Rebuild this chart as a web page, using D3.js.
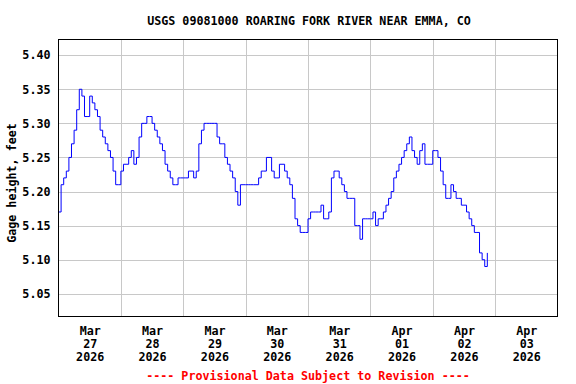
<!DOCTYPE html>
<html>
<head>
<meta charset="utf-8">
<style>
    body {
        margin: 0;
        background: #fff;
    }
    svg {
        display: block;
    }
    text {
        font-family: "DejaVu Sans Mono", monospace;
        font-weight: bold;
        font-size: 11.7px;
        fill: #000;
    }
    .grid line {
        stroke: #c8c8c8;
        stroke-width: 1;
    }
    .axis path, .axis line {
        display: none;
    }
    .frame {
        fill: none;
        stroke: #000;
        stroke-width: 1;
    }
    .stage {
        fill: none;
        stroke: #0000ff;
        stroke-width: 1;
    }
    .note {
        fill: #ff0000;
    }
</style>
</head>
<body>
<script src="https://cdn.jsdelivr.net/npm/d3@7/dist/d3.min.js"></script>
<script>

    var chartTitle = "USGS 09081000 ROARING FORK RIVER NEAR EMMA, CO";
    var yTitle = "Gage height, feet";
    var noteText = "---- Provisional Data Subject to Revision ----";

    // one label per day, three rows
    var monthLabels = ["Mar", "Mar", "Mar", "Mar", "Mar", "Apr", "Apr", "Apr"];
    var dayLabels = ["27", "28", "29", "30", "31", "01", "02", "03"];
    var yearLabels = ["2026", "2026", "2026", "2026", "2026", "2026", "2026", "2026"];

    var yTicks = [5.05, 5.10, 5.15, 5.20, 5.25, 5.30, 5.35, 5.40];

    // hourly gage height from 2026-03-27 00:00
    var gageHeight = [
        5.17, 5.21, 5.22, 5.23, 5.25, 5.27, 5.29, 5.32, 5.35, 5.34,
        5.31, 5.31, 5.34, 5.33, 5.32, 5.31, 5.29, 5.28, 5.27, 5.26,
        5.25, 5.23, 5.21, 5.21, 5.23, 5.24, 5.24, 5.25, 5.26, 5.24,
        5.25, 5.28, 5.30, 5.30, 5.31, 5.31, 5.30, 5.29, 5.28, 5.27,
        5.26, 5.24, 5.23, 5.22, 5.21, 5.21, 5.22, 5.22, 5.22, 5.22,
        5.23, 5.23, 5.22, 5.23, 5.27, 5.29, 5.30, 5.30, 5.30, 5.30,
        5.30, 5.28, 5.27, 5.27, 5.25, 5.24, 5.23, 5.22, 5.20, 5.18,
        5.21, 5.21, 5.21, 5.21, 5.21, 5.21, 5.21, 5.22, 5.23, 5.23,
        5.25, 5.25, 5.23, 5.22, 5.22, 5.24, 5.24, 5.23, 5.22, 5.21,
        5.19, 5.16, 5.15, 5.14, 5.14, 5.14, 5.16, 5.17, 5.17, 5.17,
        5.17, 5.18, 5.16, 5.16, 5.17, 5.22, 5.23, 5.23, 5.22, 5.21,
        5.20, 5.19, 5.19, 5.19, 5.15, 5.15, 5.13, 5.16, 5.16, 5.16,
        5.16, 5.17, 5.15, 5.16, 5.16, 5.17, 5.18, 5.19, 5.20, 5.22,
        5.23, 5.24, 5.25, 5.26, 5.27, 5.28, 5.26, 5.25, 5.24, 5.26,
        5.27, 5.24, 5.24, 5.24, 5.26, 5.26, 5.25, 5.23, 5.21, 5.19,
        5.19, 5.21, 5.20, 5.19, 5.19, 5.18, 5.18, 5.17, 5.16, 5.15,
        5.14, 5.14, 5.11, 5.10, 5.09, 5.11
    ];

    var width = 576,
        height = 384,
        plotLeft = 58.5,
        plotRight = 557.5,
        plotTop = 39.5,
        plotBottom = 316.5;

    var start = new Date(Date.UTC(2026, 2, 27)),
        end = new Date(Date.UTC(2026, 3, 4));

    var points = gageHeight.map(function(v, i) {
        return {t: d3.utcHour.offset(start, i), v: v};
    });

    var x = d3.scaleUtc()
        .domain([start, end])
        .range([plotLeft, plotRight]);

    var y = d3.scaleLinear()
        .domain([5.0167, 5.423])
        .range([plotBottom, plotTop]);

    var svg = d3.select("body").append("svg")
        .attr("width", width)
        .attr("height", height);

    svg.append("text")
        .attr("x", 309)
        .attr("y", 24.5)
        .attr("text-anchor", "middle")
        .text(chartTitle);

    // grid
    var grid = svg.append("g").attr("class", "grid");

    grid.selectAll("line.h")
        .data(yTicks)
      .enter().append("line")
        .attr("class", "h")
        .attr("x1", plotLeft)
        .attr("x2", plotRight)
        .attr("y1", function(d) { return Math.round(y(d)) + 0.5; })
        .attr("y2", function(d) { return Math.round(y(d)) + 0.5; });

    var days = d3.utcDay.range(d3.utcDay.offset(start, 1), end);

    grid.selectAll("line.v")
        .data(days)
      .enter().append("line")
        .attr("class", "v")
        .attr("x1", function(d) { return Math.round(x(d)) + 0.5; })
        .attr("x2", function(d) { return Math.round(x(d)) + 0.5; })
        .attr("y1", plotTop)
        .attr("y2", plotBottom);

    // series
    var line = d3.line()
        .x(function(d) { return x(d.t); })
        .y(function(d) { return y(d.v); })
        .curve(d3.curveStepAfter);

    svg.append("path")
        .datum(points)
        .attr("class", "stage")
        .attr("d", line);

    svg.append("rect")
        .attr("class", "frame")
        .attr("x", plotLeft)
        .attr("y", plotTop)
        .attr("width", plotRight - plotLeft)
        .attr("height", plotBottom - plotTop);

    // y axis
    svg.append("g")
        .attr("class", "axis")
        .attr("transform", "translate(" + plotLeft + ",0)")
        .call(d3.axisLeft(y)
            .tickValues(yTicks)
            .tickSize(0)
            .tickPadding(8)
            .tickFormat(d3.format(".2f")));

    svg.append("text")
        .attr("transform", "translate(16,183) rotate(-90)")
        .attr("text-anchor", "middle")
        .text(yTitle);

    // x axis, labels at midday
    var noons = d3.utcDay.range(start, end).map(function(d) {
        return d3.utcHour.offset(d, 12);
    });

    var xAxis = svg.append("g")
        .attr("class", "axis")
        .attr("transform", "translate(0," + plotBottom + ")")
        .call(d3.axisBottom(x)
            .tickValues(noons)
            .tickSize(0)
            .tickFormat(""));

    xAxis.selectAll(".tick text")
        .attr("dy", null)
        .attr("y", 0)
        .each(function(d, i) {
            var t = d3.select(this);
            [monthLabels[i], dayLabels[i], yearLabels[i]].forEach(function(s, k) {
                t.append("tspan")
                    .attr("x", 0)
                    .attr("y", 18 + k * 13)
                    .text(s);
            });
        });

    svg.append("text")
        .attr("class", "note")
        .attr("x", 308)
        .attr("y", 379.5)
        .attr("text-anchor", "middle")
        .text(noteText);

</script>
</body>
</html>
